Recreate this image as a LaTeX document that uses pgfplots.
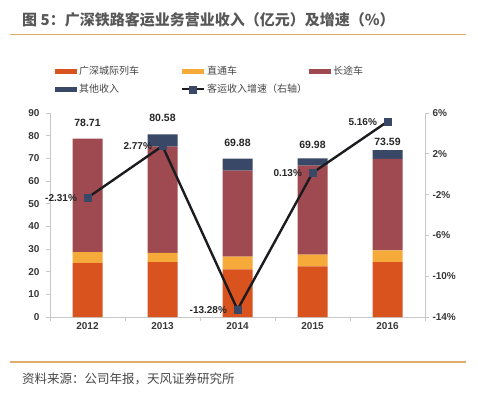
\documentclass[border=0pt]{standalone}
\usepackage{pgfplots}
\pgfplotsset{compat=1.18}
\usepackage{fontspec}
\setmainfont{Liberation Sans}
\newfontfamily\cjk{Noto Sans CJK SC}
\definecolor{cOrange}{RGB}{217,83,30}
\definecolor{cYellow}{RGB}{246,170,58}
\definecolor{cMaroon}{RGB}{158,74,80}
\definecolor{cNavy}{RGB}{56,72,102}
\definecolor{cLine}{RGB}{28,28,32}
\definecolor{cRule}{RGB}{224,172,104}
\definecolor{cAxis}{RGB}{200,200,200}
\definecolor{cText}{RGB}{70,70,70}
\begin{document}
\begin{tikzpicture}
\path[use as bounding box] (0,0) rectangle (478pt,-400pt);
\node[anchor=west, font=\cjk\bfseries\fontsize{15}{15}\selectfont, text=cText!90, inner sep=0] at (22pt,-20pt) {图 5：广深铁路客运业务营业收入（亿元）及增速（\%）};
\draw[cRule, line width=1.5pt] (10pt,-34.5pt) -- (466pt,-34.5pt);
\draw[cRule, line width=1.5pt] (10pt,-362pt) -- (466pt,-362pt);
\node[anchor=west, font=\cjk\fontsize{12.5}{12.5}\selectfont, text=cText, inner sep=0] at (22pt,-379pt) {资料来源：公司年报，天风证券研究所};

\begin{axis}[
  at={(50pt,-317pt)}, anchor=south west,
  width=375pt, height=204pt, scale only axis,
  ybar stacked, bar width=30pt,
  xmin=-0.5, xmax=4.5, ymin=0, ymax=90,
  xtick={-0.5,0.5,...,4.5}, xticklabels={},
  extra x ticks={0,1,2,3,4},
  extra x tick labels={2012,2013,2014,2015,2016},
  extra x tick style={major tick length=0pt},
  ytick={0,10,...,90},
  axis x line*=bottom, axis y line*=left,
  axis line style={draw=cAxis, line width=0.8pt, -},
  tick style={draw=cAxis, line width=0.8pt},
  major tick length=4pt, tick align=outside,
  /pgf/number format/assume math mode=true,
  tick label style={font=\bfseries\fontsize{10}{10}\selectfont, text=cText!80!black},
  yticklabel style={xshift=-3pt},
  xticklabel style={yshift=-2pt},
  legend style={at={(0.005,1.25)}, anchor=north west, draw=none, fill=none,
    font=\cjk\fontsize{10}{10}\selectfont, text=cText, row sep=4pt},
  legend columns=3,
]
\addplot[fill=cOrange, draw=none, legend image code/.code={\fill[cOrange] (0pt,-2.5pt) rectangle (22pt,2.5pt);}]
  coordinates {(0,23.8) (1,24.2) (2,21.0) (3,22.3) (4,24.2)};
\addlegendentry{\makebox[100pt][l]{广深城际列车}}
\addplot[fill=cYellow, draw=none, legend image code/.code={\fill[cYellow] (0pt,-2.5pt) rectangle (22pt,2.5pt);}]
  coordinates {(0,4.8) (1,4.1) (2,5.6) (3,5.2) (4,5.2)};
\addlegendentry{\makebox[100pt][l]{直通车}}
\addplot[fill=cMaroon, draw=none, legend image code/.code={\fill[cMaroon] (0pt,-2.5pt) rectangle (22pt,2.5pt);}]
  coordinates {(0,50.11) (1,46.9) (2,38.0) (3,39.3) (4,40.35)};
\addlegendentry{\makebox[100pt][l]{长途车}}
\addplot[fill=cNavy, draw=none, legend image code/.code={\fill[cNavy] (0pt,-2.5pt) rectangle (22pt,2.5pt);}]
  coordinates {(0,0) (1,5.38) (2,5.28) (3,3.18) (4,3.84)};
\addlegendentry{\makebox[100pt][l]{其他收入}}
\addlegendimage{legend image code/.code={\draw[cLine, line width=2pt] (0pt,0pt) -- (22pt,0pt); \fill[cNavy] (7.5pt,-3.5pt) rectangle (14.5pt,3.5pt);}}
\addlegendentry{\makebox[100pt][l]{客运收入增速（右轴）}}
\node[font=\bfseries\fontsize{10.5}{10.5}\selectfont, text=black!85] at (axis cs:0,85.5) {78.71};
\node[font=\bfseries\fontsize{10.5}{10.5}\selectfont, text=black!85] at (axis cs:1,87.7) {80.58};
\node[font=\bfseries\fontsize{10.5}{10.5}\selectfont, text=black!85] at (axis cs:2,76.7) {69.88};
\node[font=\bfseries\fontsize{10.5}{10.5}\selectfont, text=black!85] at (axis cs:3,75.8) {69.98};
\node[font=\bfseries\fontsize{10.5}{10.5}\selectfont, text=black!85] at (axis cs:4,77.3) {73.59};
\end{axis}

\begin{axis}[
  at={(50pt,-317pt)}, anchor=south west,
  width=375pt, height=204pt, scale only axis,
  xmin=-0.5, xmax=4.5, ymin=-14, ymax=6,
  axis x line=none, axis y line*=right,
  ytick={-14,-10,-6,-2,2,6},
  yticklabels={-14\%,-10\%,-6\%,-2\%,2\%,6\%},
  axis line style={draw=cAxis, line width=0.8pt, -},
  tick style={draw=cAxis, line width=0.8pt},
  major tick length=4pt, tick align=outside,
  tick label style={font=\bfseries\fontsize{10}{10}\selectfont, text=cText!80!black},
  clip=false,
]
\addplot[cLine, line width=2.4pt, mark=square*, mark size=3.5pt,
  mark options={draw=cNavy, fill=cNavy, line width=0.5pt},
  nodes near coords, point meta=explicit symbolic,
  every node near coord/.append style={anchor=east, xshift=-7pt, yshift=0pt,
    font=\bfseries\fontsize{10}{10}\selectfont, text=black!85}]
  coordinates {(0,-2.31)[-2.31\%] (1,2.77)[2.77\%] (2,-13.28)[-13.28\%] (3,0.13)[0.13\%] (4,5.16)[5.16\%]};
\end{axis}
\end{tikzpicture}
\end{document}
